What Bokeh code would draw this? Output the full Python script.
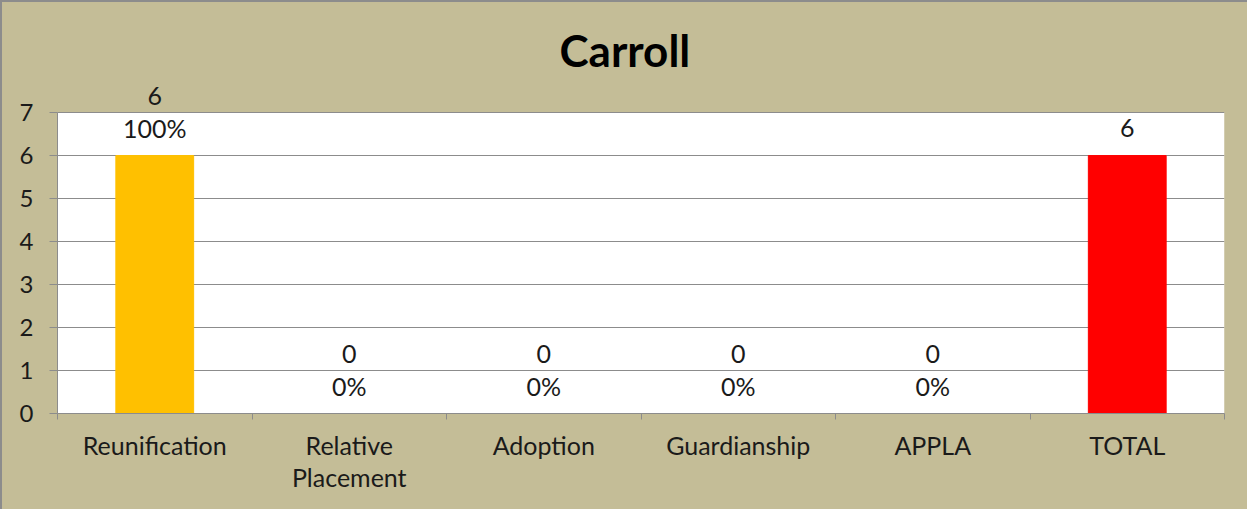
from bokeh.plotting import figure
from bokeh.models import ColumnDataSource, FixedTicker, LabelSet, Title, Range1d, BoxAnnotation
from bokeh.core.properties import value
from bokeh.embed import file_html
from bokeh.resources import INLINE

categories = ["Reunification", "Relative\nPlacement", "Adoption", "Guardianship", "APPLA", "TOTAL"]
counts = [6, 0, 0, 0, 0, 6]
pct_labels = ["100%", "0%", "0%", "0%", "0%", ""]
bar_colors = ["#FFC000", "#FFC000", "#FFC000", "#FFC000", "#FFC000", "#FF0000"]
y_ticks = [0, 1, 2, 3, 4, 5, 6, 7]

TAN = "#C4BD97"
GRID = "#8C8C8C"
FONT = "Lato"
Y_MAX = 7          # top of the white plot area
Y_HEADROOM = 0.7   # extra tan space above the plot area for data labels

n = len(categories)
xs = [i + 0.5 for i in range(n)]
count_off = [60 if p else 28 for p in pct_labels]

src = ColumnDataSource(dict(
    x=xs, top=counts, color=bar_colors,
    ctext=[str(c) for c in counts], ptext=pct_labels, coff=count_off,
))

p = figure(width=1247, height=509, output_backend="svg", toolbar_location=None,
           x_range=Range1d(0, n), y_range=Range1d(0, Y_MAX + Y_HEADROOM),
           min_border_left=55, min_border_right=25, min_border_top=80, min_border_bottom=98)
p.background_fill_color = TAN
p.border_fill_color = TAN
p.outline_line_color = None

p.add_layout(BoxAnnotation(bottom=0, top=Y_MAX, fill_color="white", fill_alpha=1.0,
                           line_color=None, level="image"))

p.vbar(x="x", top="top", width=0.4, bottom=0, color="color", source=src)

t = Title(text="Carroll", align="left", offset=502, text_font=FONT, text_font_size="44px",
          text_font_style="bold", text_color="black", standoff=14)
p.add_layout(t, "above")

# axes
xa = p.xaxis[0]
xa.ticker = FixedTicker(ticks=xs, minor_ticks=list(range(n + 1)))
xa.major_label_overrides = {x: c for x, c in zip(xs, categories)}
xa.major_tick_line_color = None
xa.major_tick_out = 0
xa.major_tick_in = 0
xa.minor_tick_out = 6
xa.minor_tick_in = 0
xa.minor_tick_line_color = GRID
xa.axis_line_color = GRID
xa.major_label_text_font = FONT
xa.major_label_text_font_size = "25px"
xa.major_label_text_color = "#1a1a1a"
xa.major_label_standoff = 10
xa.major_label_text_line_height = 1.08

ya = p.yaxis[0]
ya.ticker = FixedTicker(ticks=y_ticks)
ya.bounds = (0, Y_MAX)
ya.major_tick_out = 8
ya.major_tick_in = 0
ya.minor_tick_line_color = None
ya.major_tick_line_color = GRID
ya.axis_line_color = GRID
ya.major_label_text_font = FONT
ya.major_label_text_font_size = "24px"
ya.major_label_text_color = "#1a1a1a"
ya.major_label_standoff = 16

p.xgrid.grid_line_color = None
p.ygrid.grid_line_color = GRID
p.ygrid.ticker = FixedTicker(ticks=y_ticks)

common = dict(x="x", y="top", source=src, text_align="center", text_baseline="middle",
              text_font=value(FONT), text_font_size=value("25px"), text_color="#1a1a1a")
p.add_layout(LabelSet(text="ptext", y_offset=28, **common))
p.add_layout(LabelSet(text="ctext", y_offset="coff", **common))

p.styles = {"border-left": "2px solid #8C8C8C", "border-top": "2px solid #8C8C8C",
            "background-color": TAN}

open("out.html", "w").write(file_html(p, INLINE))
